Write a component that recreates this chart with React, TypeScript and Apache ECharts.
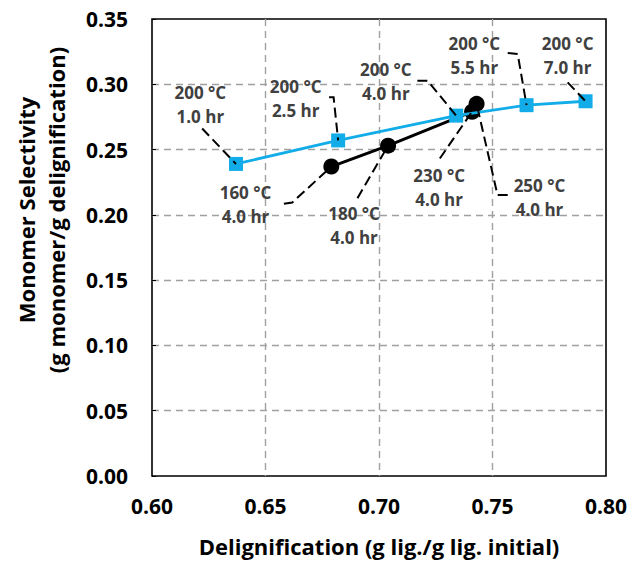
import React, { useEffect, useRef } from "react";
import * as echarts from "echarts";

// Series data
const blueX = [0.637, 0.682, 0.734, 0.765, 0.791];
const blueY = [0.239, 0.257, 0.276, 0.284, 0.287];
const blackX = [0.679, 0.704, 0.741, 0.743];
const blackY = [0.237, 0.253, 0.279, 0.285];

// Annotation labels: text, text anchor (data units), leader path (data units) ending at a point
const annoText = [
  "200 °C\n1.0 hr",
  "200 °C\n2.5 hr",
  "200 °C\n4.0 hr",
  "200 °C\n5.5 hr",
  "200 °C\n7.0 hr",
  "160 °C\n4.0 hr",
  "180 °C\n4.0 hr",
  "230 °C\n4.0 hr",
  "250 °C\n4.0 hr",
];
const annoPos: number[][] = [
  [0.6213, 0.2846],
  [0.6633, 0.2891],
  [0.703, 0.3024],
  [0.742, 0.3218],
  [0.7831, 0.3218],
  [0.6412, 0.2077],
  [0.689, 0.1915],
  [0.7265, 0.221],
  [0.7707, 0.2134],
];
const annoLeader: number[][][] = [
  [[0.6221, 0.2661]],
  [[0.678, 0.2901], [0.68, 0.2901]],
  [[0.7169, 0.3028], [0.7214, 0.3028]],
  [[0.7567, 0.3239], [0.7611, 0.3231]],
  [[0.7831, 0.3015]],
  [[0.6581, 0.2085], [0.6618, 0.2095]],
  [[0.6905, 0.2128]],
  [[0.7268, 0.2432]],
  [[0.7567, 0.2153], [0.7522, 0.2153]],
];
// target point for each annotation: [series, index]
const annoTarget: [string, number][] = [
  ["blue", 0],
  ["blue", 1],
  ["blue", 2],
  ["blue", 3],
  ["blue", 4],
  ["black", 0],
  ["black", 1],
  ["black", 2],
  ["black", 3],
];

const xTicks = [0.6, 0.65, 0.7, 0.75, 0.8];
const yTicks = [0, 0.05, 0.1, 0.15, 0.2, 0.25, 0.3, 0.35];

const FONT = "'Open Sans', Lato, sans-serif";

export default function App() {
  const ref = useRef<HTMLDivElement>(null);
  useEffect(() => {
    document.body.style.margin = "0";
    const chart = echarts.init(ref.current!, undefined, { renderer: "svg" });
    const blueData = blueX.map((x, i) => [x, blueY[i]]);
    const blackData = blackX.map((x, i) => [x, blackY[i]]);
    const gridLine = {
      show: true,
      showMinLine: false,
      showMaxLine: false,
      lineStyle: { color: "#a0a0a0", type: [7, 5], width: 1.4 },
    };
    const option: any = {
      animation: false,
      backgroundColor: "#ffffff",
      grid: {
        left: 152,
        right: 26,
        top: 19,
        bottom: 85,
        show: true,
        borderColor: "#000",
        borderWidth: 1.6,
      },
      xAxis: {
        type: "value",
        min: xTicks[0],
        max: xTicks[xTicks.length - 1],
        interval: 0.05,
        axisLine: { show: false },
        axisTick: { show: false },
        splitLine: gridLine,
        axisLabel: {
          margin: 19,
          color: "#000",
          fontWeight: "bold",
          fontSize: 21,
          fontFamily: FONT,
          formatter: (v: number) => v.toFixed(2),
        },
        name: "Delignification (g lig./g lig. initial)",
        nameLocation: "middle",
        nameGap: 59,
        nameTextStyle: { color: "#000", fontWeight: "bold", fontSize: 22, fontFamily: FONT },
      },
      yAxis: {
        type: "value",
        min: yTicks[0],
        max: yTicks[yTicks.length - 1],
        interval: 0.05,
        axisLine: { show: false },
        axisTick: { show: true, inside: true, length: 4, lineStyle: { color: "#000" } },
        splitLine: gridLine,
        axisLabel: {
          margin: 24,
          color: "#000",
          fontWeight: "bold",
          fontSize: 21,
          fontFamily: FONT,
          formatter: (v: number) => v.toFixed(2),
        },
      },
      graphic: [
        {
          type: "text",
          x: 41,
          y: 210,
          rotation: Math.PI / 2,
          style: {
            text: "Monomer Selectivity\n(g monomer/g delignification)",
            align: "center",
            verticalAlign: "middle",
            fontSize: 22,
            fontWeight: "bold",
            fontFamily: FONT,
            lineHeight: 30,
            fill: "#000",
          },
        },
      ],
      series: [
        {
          type: "line",
          name: "black",
          data: blackData,
          symbol: "circle",
          symbolSize: 16,
          itemStyle: { color: "#000" },
          lineStyle: { color: "#000", width: 3 },
          z: 2,
        },
        {
          type: "line",
          name: "blue",
          data: blueData,
          symbol: "rect",
          symbolSize: 14,
          itemStyle: { color: "#12ade9" },
          lineStyle: { color: "#12ade9", width: 2.8 },
          z: 3,
        },
        {
          type: "custom",
          name: "annotations",
          data: annoPos,
          z: 5,
          clip: false,
          renderItem: (params: any, api: any) => {
            const i = params.dataIndex;
            const [s, idx] = annoTarget[i];
            const target = s === "blue" ? blueData[idx] : blackData[idx];
            const pts = [...annoLeader[i], target].map((p) => api.coord(p));
            const c = api.coord(annoPos[i]);
            return {
              type: "group",
              children: [
                {
                  type: "polyline",
                  shape: { points: pts },
                  style: { stroke: "#000", lineWidth: 2, lineDash: [10, 5], fill: null },
                },
                {
                  type: "text",
                  x: c[0],
                  y: c[1],
                  style: {
                    text: annoText[i],
                    align: "center",
                    verticalAlign: "middle",
                    fontSize: 17,
                    fontWeight: "bold",
                    fontFamily: FONT,
                    lineHeight: 24,
                    fill: "#404040",
                  },
                },
              ],
            };
          },
        },
      ],
    };
    chart.setOption(option);
    return () => chart.dispose();
  }, []);
  return (
    <div
      ref={ref}
      style={{ position: "absolute", left: 0, top: 0, width: 632, height: 562, background: "#fff" }}
    />
  );
}
